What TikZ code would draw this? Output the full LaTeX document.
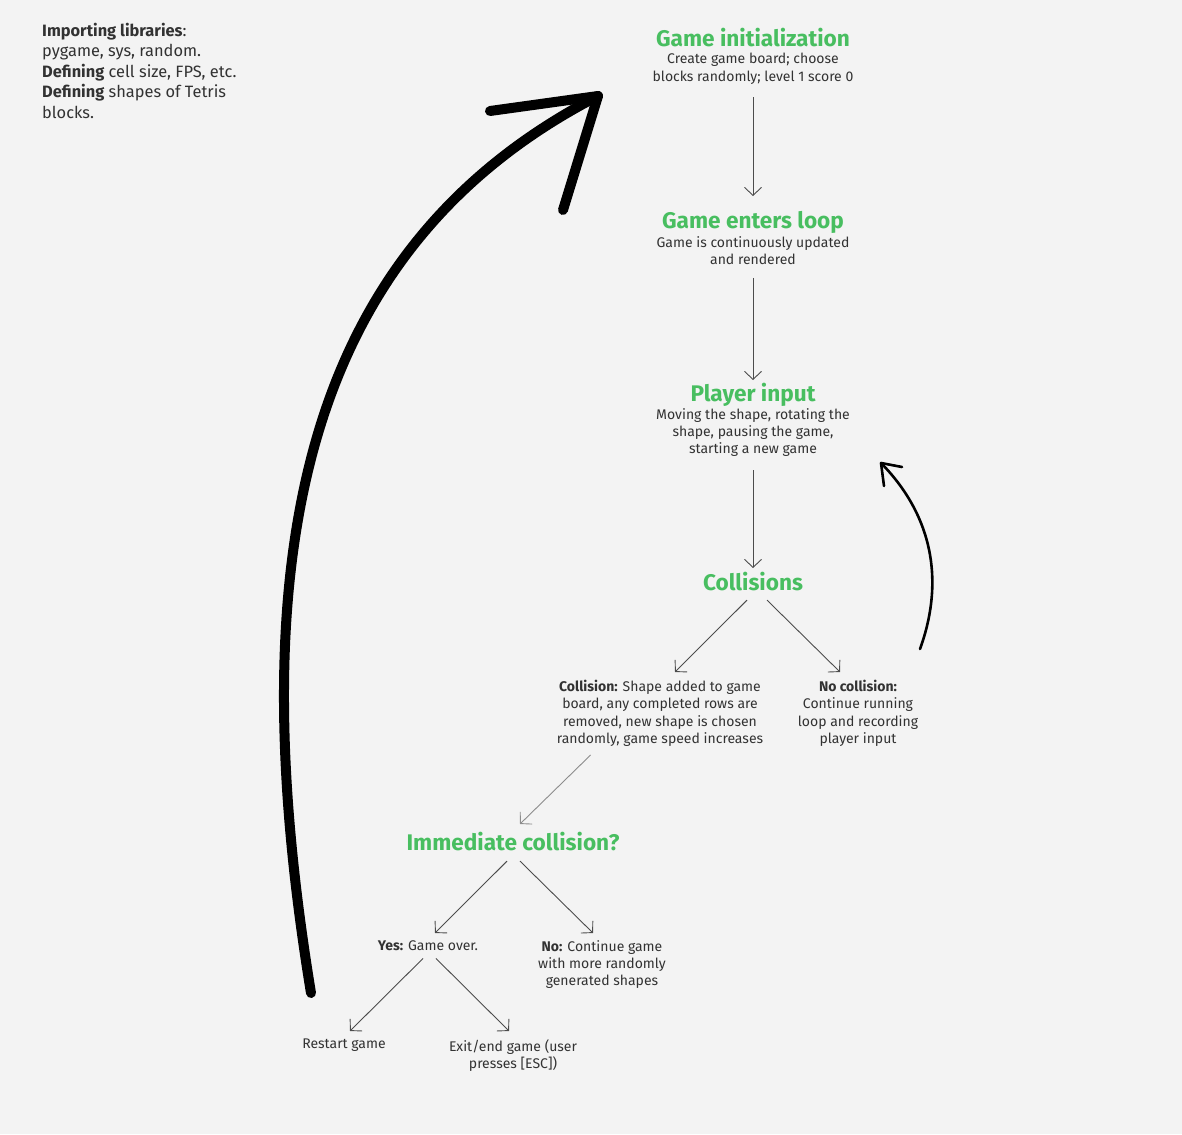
\documentclass[tikz,border=0pt]{standalone}
\usepackage{fontspec}
\setmainfont{Fira Sans}
\usetikzlibrary{arrows.meta,calc}

\definecolor{titlegreen}{RGB}{72,190,96}
\definecolor{bodygray}{RGB}{50,50,50}
\definecolor{paper}{RGB}{243,243,243}

\tikzset{
  heading/.style={text=titlegreen, font=\fontsize{22.6}{24}\selectfont\bfseries, inner sep=0pt, anchor=north},
  blurb/.style={text=bodygray, font=\fontsize{14}{17.4}\selectfont, align=center, inner sep=0pt, anchor=north},
  flow/.style={draw=black!70, line width=0.9pt, -{Straight Barb[length=8pt,width=17pt]}},
  fadeflow/.style={flow, draw=black!45},
}

\begin{document}
\begin{tikzpicture}[x=1pt,y=-1pt]

\fill[paper] (0,0) rectangle (1182,1134);
\useasboundingbox (0,0) rectangle (1182,1134);

\node[text=bodygray, font=\fontsize{16.4}{20.5}\selectfont, align=left, inner sep=0pt, anchor=north west] (setup) at (42,23)
  {\textbf{Importing libraries}:\\pygame, sys, random.\\\textbf{Defining} cell size, FPS, etc.\\\textbf{Defining} shapes of Tetris\\blocks.};

\node[heading] (init) at (753,28) {Game initialization};
\node[blurb] (initnote) at (753,53) {Create game board; choose\\blocks randomly; level 1 score 0};

\node[heading] (loop) at (753,211) {Game enters loop};
\node[blurb] (loopnote) at (753,236) {Game is continuously updated\\and rendered};

\node[heading] (input) at (753,383) {Player input};
\node[blurb] (inputnote) at (753,408) {Moving the shape, rotating the\\shape, pausing the game,\\starting a new game};

\node[heading] (colls) at (753,572) {Collisions};

\node[blurb] (hit) at (660,680) {\textbf{Collision:} Shape added to game\\board, any completed rows are\\removed, new shape is chosen\\randomly, game speed increases};
\node[blurb] (miss) at (858,680) {\textbf{No collision:}\\Continue running\\loop and recording\\player input};

\node[heading] (instant) at (513,832) {Immediate collision?};

\node[blurb] (yes) at (428,940) {\textbf{Yes:} Game over.};
\node[blurb] (no) at (602,940) {\textbf{No:} Continue game\\with more randomly\\generated shapes};

\node[blurb] (restart) at (344,1039) {Restart game};
\node[blurb] (quit) at (513,1039) {Exit/end game (user\\presses [ESC])};

\draw[flow] ([yshift=-13pt]initnote.south) -- ([yshift=15pt]loop.north);
\draw[flow] ([yshift=-13pt]loopnote.south) -- ([yshift=3pt]input.north);
\draw[flow] ([yshift=-13pt]inputnote.south) -- ([yshift=4pt]colls.north);

\draw[flow] ([xshift=-6pt,yshift=-9pt]colls.south) -- ([xshift=15pt,yshift=8pt]hit.north);
\draw[flow] ([xshift=14pt,yshift=-9pt]colls.south) -- ([xshift=-18pt,yshift=8pt]miss.north);

\draw[fadeflow] ([xshift=34pt,yshift=-8pt]hit.south west) -- ([xshift=7pt,yshift=8pt]instant.north);

\draw[flow] ([xshift=-6pt,yshift=-10pt]instant.south) -- ([xshift=7pt,yshift=7pt]yes.north);
\draw[flow] ([xshift=7pt,yshift=-10pt]instant.south) -- ([xshift=-9pt,yshift=7pt]no.north);

\draw[flow] ([xshift=-5pt,yshift=-8pt]yes.south) -- ([xshift=6pt,yshift=8pt]restart.north);
\draw[flow] ([xshift=8pt,yshift=-8pt]yes.south) -- ([xshift=-4pt,yshift=8pt]quit.north);

\coordinate (backfrom) at (311,993);
\coordinate (backto) at (598,96);
\draw[line width=10pt, line cap=round] (backfrom) .. controls (240,560) and (300,250) .. (backto);
\draw[line width=10pt, line cap=round, line join=round] ($(backto)+(-108,15)$) -- (backto) -- ($(backto)+(-35,114)$);

\coordinate (againfrom) at (920,649);
\coordinate (againto) at (881,463);
\draw[line width=2.6pt, line cap=round] (againfrom) .. controls (945,580) and (932,515) .. (againto);
\draw[line width=2.6pt, line cap=round, line join=round] ($(againto)+(21,4)$) -- (againto) -- ($(againto)+(3,23)$);

\end{tikzpicture}
\end{document}
